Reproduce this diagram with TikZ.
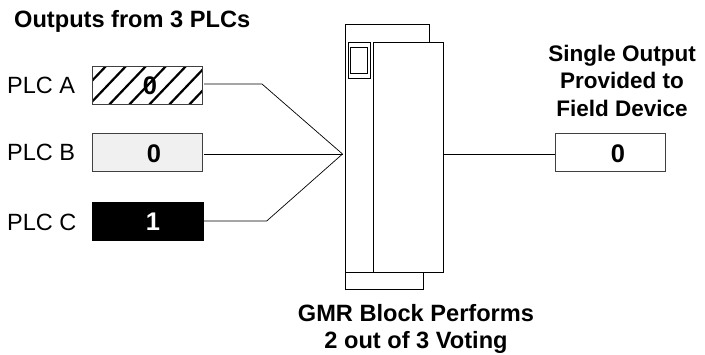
\documentclass[tikz,border=0pt]{standalone}
\usepackage{fontspec}
\setmainfont{Liberation Sans}
\tikzset{
 outbox/.style={draw=black!75,line width=.8pt,minimum width=110pt,minimum height=38pt,inner sep=0pt},
 digit/.style={font=\bfseries\fontsize{25.5}{27}\selectfont,inner sep=0pt},
 lab/.style={font=\fontsize{23.5}{25}\selectfont,inner sep=0pt,anchor=west},
 head/.style={font=\bfseries\fontsize{23.6}{27}\selectfont,inner sep=0pt,align=center},
 headr/.style={font=\bfseries\fontsize{22.5}{27.5}\selectfont,inner sep=0pt,align=center},
 wire/.style={draw=black,line width=.7pt},
 blockp/.style={draw=black,line width=.8pt,fill=white}
}
\begin{document}
\begin{tikzpicture}[x=1pt,y=-1pt]
\useasboundingbox (0,0) rectangle (705,354);
\node[head,anchor=west] (title) at (14,21) {Outputs from 3 PLCs};
\node[lab] (la) at (7,85) {PLC A};
\node[lab] (lb) at (7,152) {PLC B};
\node[lab] (lc) at (7,222) {PLC C};
\node[outbox] (a) at (147,85.5) {};
\begin{scope}
\clip (92,66.5) rectangle (202,104.5);
\foreach \i in {0,...,8}{
 \draw[line width=2.2pt] ({66+\i*20},108) -- ({66+\i*20+42},64);
}
\end{scope}
\node[outbox] (a2) at (147,85.5) {};
\node[outbox,fill=black!6] (b) at (147,152.7) {};
\node[outbox,fill=black,draw=black,minimum width=111pt] (c) at (148.3,221.5) {};
\node[digit] (a0) at (150,86) {0};
\node[digit] (b0) at (154,154) {0};
\node[digit,text=white] (c1) at (153,221.5) {1};
\coordinate (j) at (342.5,154);
\coordinate (ka) at (262,84);
\coordinate (kc) at (266.7,221);
\draw[blockp] (345,272) -- (345,24.5) -- (429,24.5) -- (429,42);
\draw[blockp] (423,272) -- (423,289) -- (345,289) -- (345,272);
\node[blockp,minimum width=70pt,minimum height=230pt,inner sep=0pt,anchor=north west] (g) at (373,42) {};
\draw[wire,line width=.8pt] (345,272) -- (373,272);
\draw[wire,line width=.8pt] (348,42) rectangle (370,78);
\draw[wire,line width=.8pt] (350.5,47) rectangle (367,73);
\node[outbox] (s) at (610.8,152.7) {};
\node[digit] (s0) at (618,154) {0};
\draw[wire] (204,84) -- (ka) -- (j);
\draw[wire] (204,154) -- (j);
\draw[wire] (c.east |- kc) -- (kc) -- (j);
\draw[wire] (g.east |- 0,154) -- (s.west |- 0,154);
\node[headr] (t2) at (622,80.5) {Single Output\\Provided to\\Field Device};
\node[head] (t3) at (416,329) {GMR Block Performs\\2 out of 3 Voting};
\end{tikzpicture}
\end{document}
